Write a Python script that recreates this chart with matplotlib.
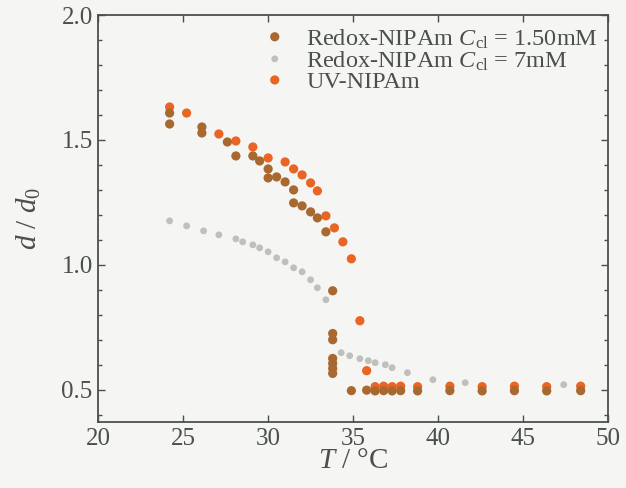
import numpy as np
import matplotlib.pyplot as plt
from matplotlib.ticker import MultipleLocator

plt.rcParams['font.family'] = 'Liberation Serif'
plt.rcParams['mathtext.fontset'] = 'custom'
plt.rcParams['mathtext.rm'] = 'Liberation Serif'
plt.rcParams['mathtext.it'] = 'Liberation Serif:italic'

# Redox-NIPAm, C_cl = 1.50 mM
t_redox15 = [24.2, 24.2, 26.1, 26.1, 27.6, 28.1, 29.1, 29.5, 30.0, 30.0, 30.5, 31.0,
             31.5, 31.5, 32.0, 32.5, 32.9, 33.4, 33.8, 33.8, 33.8, 33.8, 33.8, 33.8, 33.8,
             34.9, 35.8, 36.3, 36.8, 37.3, 37.8, 38.8, 40.7, 42.6, 44.5, 46.4, 48.4]
d_redox15 = [1.608, 1.564, 1.552, 1.528, 1.492, 1.436, 1.436, 1.416, 1.384, 1.348, 1.352, 1.332,
             1.300, 1.248, 1.236, 1.212, 1.188, 1.132, 0.896, 0.725, 0.700, 0.625, 0.605, 0.585, 0.565,
             0.496, 0.498, 0.495, 0.496, 0.495, 0.496, 0.495, 0.496, 0.495, 0.496, 0.495, 0.496]

# Redox-NIPAm, C_cl = 7 mM
t_redox7 = [24.2, 25.2, 26.2, 27.1, 28.1, 28.5, 29.1, 29.5, 30.0, 30.5, 31.0, 31.5,
            32.0, 32.5, 32.9, 33.4, 34.3, 34.8, 35.4, 35.9, 36.3, 36.9, 37.3, 38.2,
            39.7, 41.6, 47.4]
d_redox7 = [1.176, 1.156, 1.136, 1.120, 1.104, 1.092, 1.080, 1.068, 1.052, 1.028, 1.012, 0.988,
            0.972, 0.940, 0.908, 0.860, 0.648, 0.636, 0.624, 0.616, 0.608, 0.600, 0.588, 0.568,
            0.540, 0.528, 0.520]

# UV-NIPAm
t_uv = [24.2, 25.2, 27.1, 28.1, 29.1, 30.0, 31.0, 31.5, 32.0, 32.5, 32.9, 33.4, 33.9,
        34.4, 34.9, 35.4, 35.8, 36.3, 36.8, 37.3, 37.8, 38.8, 40.7, 42.6, 44.5, 46.4, 48.4]
d_uv = [1.632, 1.608, 1.524, 1.496, 1.472, 1.428, 1.412, 1.384, 1.360, 1.328, 1.296, 1.196, 1.148,
        1.092, 1.024, 0.776, 0.576, 0.512, 0.514, 0.512, 0.514, 0.512, 0.514, 0.512, 0.514, 0.512, 0.514]

bg = '#f5f5f3'
ink = '#4a504a'

fig = plt.figure(figsize=(6.26, 4.88), dpi=100, facecolor=bg)
ax = fig.add_axes([0.157, 0.135, 0.814, 0.834], facecolor=bg)

ax.scatter(t_uv, d_uv, s=44, color='#ea6424', edgecolors='none', zorder=2)
ax.scatter(t_redox15, d_redox15, s=44, color='#a8682f', edgecolors='none', zorder=3,
           label=r'Redox-NIPAm $C_{\mathregular{cl}}$ = 1.50mM')
ax.scatter(t_redox7, d_redox7, s=24, color='#bfc0bc', edgecolors='none', zorder=1,
           label=r'Redox-NIPAm $C_{\mathregular{cl}}$ = 7mM')
# empty handle so UV comes last in the legend
ax.scatter([], [], s=44, color='#ea6424', edgecolors='none', label='UV-NIPAm')

ax.set_xlim(20, 50)
ax.set_ylim(0.37, 2.0)
ax.xaxis.set_major_locator(MultipleLocator(5))
ax.yaxis.set_major_locator(MultipleLocator(0.5))
ax.yaxis.set_minor_locator(MultipleLocator(0.1))
ax.yaxis.set_major_formatter(plt.FuncFormatter(lambda v, p: f'{v:.1f}'))
ax.tick_params(which='both', direction='in', top=True, right=True, colors=ink,
               labelsize=18, width=1.0)
ax.tick_params(which='major', length=5, pad=4)
ax.tick_params(which='minor', length=3)
for s in ax.spines.values():
    s.set_color(ink)
    s.set_linewidth(1.3)

ax.set_xlabel(r'$T$ / °C', fontsize=21, color=ink, labelpad=-1)
ax.set_ylabel(r'$d$ / $d_0$', fontsize=21, color=ink, labelpad=13)

leg = ax.legend(loc='upper right', bbox_to_anchor=(1.005, 1.0), frameon=False, fontsize=17.5,
                handletextpad=0.7, labelspacing=-0.05, borderaxespad=0.1,
                handlelength=1.2, labelcolor=ink, scatteryoffsets=[0.5])

fig.savefig('out.png', dpi=100, facecolor=bg)
